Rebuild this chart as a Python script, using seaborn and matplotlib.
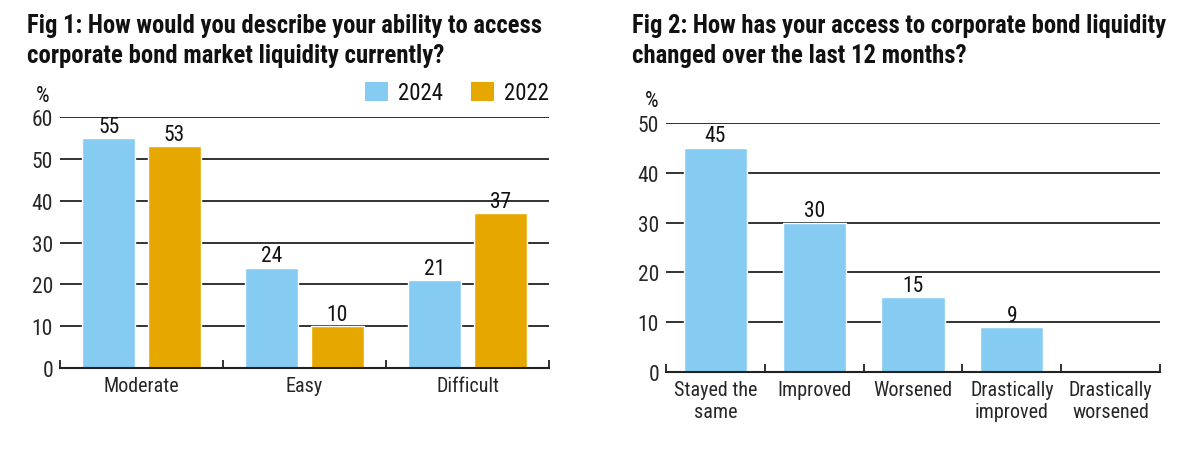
import matplotlib
matplotlib.use("Agg")
import matplotlib.pyplot as plt
from matplotlib import font_manager as fm
import seaborn as sns
import pandas as pd
import numpy as np
from matplotlib.patches import Patch

# ---- data ----
fig1_categories = ["Moderate", "Easy", "Difficult"]
fig1_2024 = [55, 24, 21]
fig1_2022 = [53, 10, 37]
fig1_years = ["2024", "2022"]

fig2_categories = ["Stayed the\nsame", "Improved", "Worsened", "Drastically\nimproved", "Drastically\nworsened"]
fig2_values = [45, 30, 15, 9, 0]

fig1_title = ["Fig 1: How would you describe your ability to access",
              "corporate bond market liquidity currently?"]
fig2_title = ["Fig 2: How has your access to corporate bond liquidity",
              "changed over the last 12 months?"]

BLUE = "#86CBF1"
ORANGE = "#E6A800"
GRID = "#222222"

sns.set_theme(style="white")
available = {f.name for f in fm.fontManager.ttflist}
condensed = [n for n in ["Liberation Sans Narrow", "Roboto Condensed", "Open Sans Condensed"] if n in available]
plt.rcParams["font.family"] = condensed + ["Roboto", "DejaVu Sans"]
plt.rcParams["text.color"] = "#111111"

fig = plt.figure(figsize=(12, 4.52), dpi=100)
renderer = fig.canvas.get_renderer()

TICK_FS = 14.5 if condensed else 13


def fit_text(x_px, y_px, s, target_w, size0, **kw):
    t = fig.text(x_px / 1200, 1 - y_px / 452, s, fontsize=size0, va="center", ha="left", **kw)
    w = t.get_window_extent(renderer).width
    t.set_fontsize(size0 * target_w / w)
    return t


df1 = pd.DataFrame({
    "category": fig1_categories * 2,
    "year": [fig1_years[0]] * 3 + [fig1_years[1]] * 3,
    "value": fig1_2024 + fig1_2022,
})
df2 = pd.DataFrame({"category": fig2_categories, "value": fig2_values})


def style_axes(ax, ymax, n):
    ax.set_ylim(0, ymax)
    ax.set_xlim(-0.5, n - 0.5)
    ax.set_yticks(np.arange(0, ymax + 1, 10))
    ax.yaxis.grid(True, color=GRID, linewidth=1.3)
    ax.set_axisbelow(True)
    for s in ["top", "right", "left"]:
        ax.spines[s].set_visible(False)
    ax.spines["bottom"].set_color(GRID)
    ax.spines["bottom"].set_linewidth(1.5)
    ax.set_xticks(np.arange(-0.5, n, 1.0), minor=True)
    ax.tick_params(axis="x", which="minor", direction="in", length=6, width=1.3, color=GRID, bottom=True)
    ax.tick_params(axis="x", which="major", length=0, labelsize=TICK_FS, pad=6)
    ax.tick_params(axis="y", length=0, labelsize=TICK_FS + 1, pad=5)
    ax.set_xlabel("")
    ax.set_ylabel("")


# ---- Fig 1 ----
ax1 = fig.add_axes([0.05, 0.1836, 0.4075, 0.5553])
sns.barplot(data=df1, x="category", y="value", hue="year", order=fig1_categories,
            hue_order=fig1_years, palette=[BLUE, ORANGE], width=0.8, gap=0.19,
            saturation=1, ax=ax1, legend=False)
style_axes(ax1, 60, 3)
for c in ax1.containers:
    ax1.bar_label(c, fmt="%d", fontsize=TICK_FS + 1, padding=1)
ax1.text(-0.035, 1.045, "%", transform=ax1.transAxes, fontsize=TICK_FS + 1, ha="center", va="bottom")
handles = [Patch(facecolor=BLUE, edgecolor="none"), Patch(facecolor=ORANGE, edgecolor="none")]
ax1.legend(handles, fig1_years, ncol=2, frameon=False, loc="lower right",
           bbox_to_anchor=(1.0, 1.05), fontsize=TICK_FS + 2, handlelength=1.0, handleheight=0.95,
           columnspacing=1.2, handletextpad=0.45, borderaxespad=0, borderpad=0)

fit_text(27, 26, fig1_title[0], 516, 16, fontweight="bold")
fit_text(27, 56, fig1_title[1], 418, 16, fontweight="bold")

# ---- Fig 2 ----
ax2 = fig.add_axes([0.555, 0.1748, 0.4117, 0.5509])
sns.barplot(data=df2, x="category", y="value", order=fig2_categories, color=BLUE,
            width=0.64, saturation=1, ax=ax2)
style_axes(ax2, 50, 5)
labels2 = [str(v) if v > 0 else "" for v in fig2_values]
ax2.bar_label(ax2.containers[0], labels=labels2, fontsize=TICK_FS + 1, padding=1)
ax2.text(-0.028, 1.05, "%", transform=ax2.transAxes, fontsize=TICK_FS + 1, ha="center", va="bottom")

fit_text(632, 26, fig2_title[0], 534, 16, fontweight="bold")
fit_text(632, 56, fig2_title[1], 334, 16, fontweight="bold")

fig.savefig("out.png", dpi=100, facecolor="white")
